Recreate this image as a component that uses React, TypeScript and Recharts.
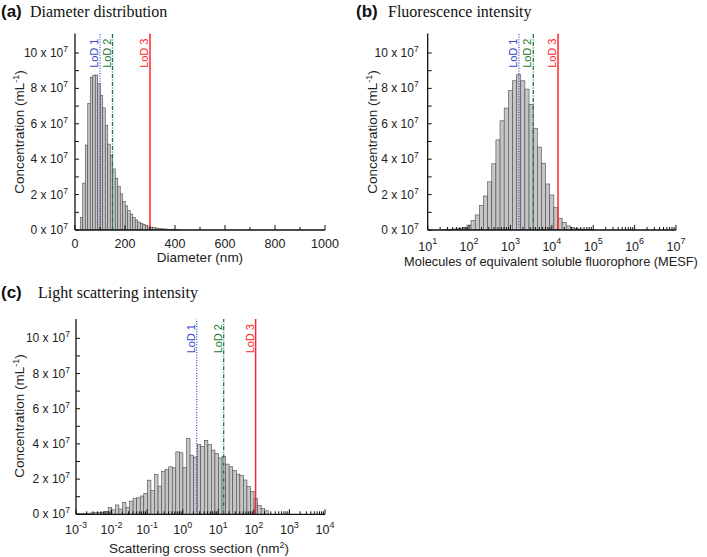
import React from 'react';
import { ComposedChart, Bar, Line, XAxis, YAxis, ReferenceLine } from 'recharts';

const SANS = '"Liberation Sans", Arial, Helvetica, sans-serif';
const SERIF = '"Liberation Serif", "Times New Roman", Times, serif';

// ---------- (a) Diameter distribution: bin centres (nm), concentration (x10^7 mL^-1)
const diameterBinCentres = [25, 35, 45, 55, 65, 75, 85, 95, 105, 115, 125, 135, 145, 155, 165, 175, 185, 195, 205, 215, 225, 235, 245, 255, 265, 275, 285, 295, 305, 315, 325, 335, 345, 355, 365, 375, 385, 395, 405, 415];
const diameterConc = [0.7, 2.65, 4.8, 7.15, 8.63, 8.75, 8.75, 8.28, 7.6, 6.9, 5.9, 4.85, 4.2, 3.45, 2.92, 2.45, 2.04, 1.62, 1.36, 1.09, 0.9, 0.7, 0.57, 0.45, 0.38, 0.32, 0.25, 0.2, 0.16, 0.13, 0.11, 0.09, 0.07, 0.06, 0.05, 0.04, 0.03, 0.02, 0.015, 0.01];
const diameterLoD = [100, 150, 300];
const diameterMajorTicks = [0, 200, 400, 600, 800, 1000];
const diameterMinorTicks = [100, 300, 500, 700, 900];

// ---------- (b) Fluorescence intensity: log10(MESF) bin centres, concentration
const mesfLogBinCentres = [1.4, 1.5, 1.6, 1.7, 1.8, 1.9, 2.0, 2.1, 2.2, 2.3, 2.4, 2.5, 2.6, 2.7, 2.8, 2.9, 3.0, 3.1, 3.2, 3.3, 3.4, 3.5, 3.6, 3.7, 3.8, 3.9, 4.0, 4.1, 4.2, 4.3, 4.4, 4.5, 4.6, 4.7, 4.8, 4.9, 5.0];
const mesfConc = [0.01, 0.02, 0.04, 0.06, 0.09, 0.15, 0.28, 0.53, 0.85, 1.38, 1.92, 2.72, 3.74, 5.09, 6.17, 6.89, 7.87, 8.43, 8.77, 8.43, 7.96, 7.1, 5.75, 4.68, 3.77, 2.6, 1.98, 1.26, 0.66, 0.43, 0.23, 0.13, 0.08, 0.05, 0.03, 0.02, 0.01];
const mesfLoD = [1600, 3560, 14100];
const mesfDecades = [1, 2, 3, 4, 5, 6, 7];

// ---------- (c) Light scattering: log10(cross section, nm^2) bin centres, concentration
const scatterLogBinCentres = [-2.95, -2.85, -2.75, -2.65, -2.55, -2.45, -2.35, -2.25, -2.15, -2.05, -1.95, -1.85, -1.75, -1.65, -1.55, -1.45, -1.35, -1.25, -1.15, -1.05, -0.95, -0.85, -0.75, -0.65, -0.55, -0.45, -0.35, -0.25, -0.15, -0.05, 0.05, 0.15, 0.25, 0.35, 0.45, 0.55, 0.65, 0.75, 0.85, 0.95, 1.05, 1.15, 1.25, 1.35, 1.45, 1.55, 1.65, 1.75, 1.85, 1.95, 2.05, 2.15, 2.25, 2.35];
const scatterConc = [0.03, 0.04, 0.05, 0.06, 0.08, 0.09, 0.11, 0.12, 0.17, 0.38, 0.25, 0.53, 0.3, 0.68, 0.38, 0.75, 0.89, 0.94, 1.04, 1.19, 1.94, 1.36, 2.26, 1.6, 2.45, 2.55, 2.7, 2.64, 3.55, 3.5, 2.65, 4.3, 3.36, 3.25, 3.96, 3.85, 4.2, 3.96, 3.65, 3.45, 3.2, 3.3, 2.85, 2.7, 2.5, 2.28, 2.2, 1.95, 1.57, 1.3, 0.9, 0.5, 0.32, 0.2];
const scatterLoD = [2.47, 14.2, 112];
const scatterDecades = [-3, -2, -1, 0, 1, 2, 3, 4];

// ---------- shared
const concTicks = [0, 1, 2, 3, 4, 5, 6, 7, 8, 9, 10];
const concLabelled = [0, 2, 4, 6, 8, 10];
const concMax = 11.1;
const lodNames = ['LoD 1', 'LoD 2', 'LoD 3'];
const lodColors = ['#3448cf', '#1b7a32', '#ff2626'];
const lodDash = ['1 1.6', '4 1.5 1 1.5', undefined];
const lodWidth = [1.2, 1.3, 1.5];

const logMinor = (decades: number[]) =>
  decades.slice(0, -1).flatMap((d) => [2, 3, 4, 5, 6, 7, 8, 9].map((k) => d + Math.log10(k)));

const isIn = (arr: number[], v: number) => arr.some((m) => Math.abs(m - v) < 1e-9);

const AXIS_LINE = { stroke: '#111', strokeWidth: 1.3 };

type Box = { left: number; top: number; width: number; height: number };
type Plot = { left: number; right: number; top: number; bottom: number };

function Panel(props: {
  box: Box;
  plot: Plot;
  rows: { x: number; v: number }[];
  xDomain: [number, number];
  xMajor: number[];
  xMinor: number[];
  xTickText: (v: number) => React.ReactNode;
  xLabelDy: number;
  binWidth: number;
  lodX: number[];
  yLabelGap: number;
}) {
  const { box, plot, rows, xDomain, xMajor, xMinor, xTickText, xLabelDy, binWidth, lodX, yLabelGap } = props;
  const yAxisW = 60;
  const xAxisH = 40;
  const margin = {
    top: plot.top - box.top,
    left: plot.left - box.left - yAxisW,
    right: box.left + box.width - plot.right,
    bottom: box.top + box.height - plot.bottom - xAxisH,
  };
  const binPx = ((plot.right - plot.left) * binWidth) / (xDomain[1] - xDomain[0]);
  const xTicks = [...xMajor, ...xMinor].sort((a, b) => a - b);

  const bottomTick = (p: any) => {
    const v = p.payload.value;
    const major = isIn(xMajor, v);
    return (
      <g>
        <line x1={p.x} x2={p.x} y1={p.y} y2={p.y - (major ? 5 : 3)} stroke="#111" strokeWidth={1} />
        {major && (
          <text x={p.x} y={p.y + xLabelDy} textAnchor="middle" fontSize={12.5} fontFamily={SANS} fill="#222">
            {xTickText(v)}
          </text>
        )}
      </g>
    );
  };
  const topTick = (p: any) => {
    const v = p.payload.value;
    const major = isIn(xMajor, v);
    return <line x1={p.x} x2={p.x} y1={p.y} y2={p.y + (major ? 5 : 3)} stroke="#111" strokeWidth={1} />;
  };
  const leftTick = (p: any) => {
    const v = p.payload.value;
    const major = isIn(concLabelled, v);
    return (
      <g>
        <line x1={p.x} x2={p.x + 4} y1={p.y} y2={p.y} stroke="#111" strokeWidth={1} />
        {major && (
          <text x={p.x - yLabelGap} y={p.y + 4} textAnchor="end" fontSize={12} fontFamily={SANS} fill="#222">
            {v} x 10
            <tspan dy={-5} fontSize={8.5}>7</tspan>
          </text>
        )}
      </g>
    );
  };
  const rightTick = (p: any) => (
    <line x1={p.x} x2={p.x - 4} y1={p.y} y2={p.y} stroke="#111" strokeWidth={1} />
  );

  // full-bin histogram rectangle, centred where the library placed the bar
  const binShape = (p: any) => {
    if (!p || !(p.height > 0)) return <g />;
    const cx = p.x + p.width / 2;
    return (
      <rect
        x={cx - binPx / 2}
        y={p.y}
        width={binPx}
        height={p.height}
        fill="#c6c6c6"
        stroke="#4a4a4a"
        strokeWidth={0.6}
      />
    );
  };

  const lodLabel = (i: number) => (lp: any) => {
    const vb = lp.viewBox || {};
    const x = vb.x - 1.8;
    const y = vb.y + 5;
    return (
      <text
        x={x}
        y={y}
        transform={`rotate(-90 ${x} ${y})`}
        textAnchor="end"
        fontSize={11}
        fontFamily={SANS}
        fill={lodColors[i]}
      >
        {lodNames[i]}
      </text>
    );
  };

  return (
    <div style={{ position: 'absolute', left: box.left, top: box.top, width: box.width, height: box.height }}>
      <ComposedChart width={box.width} height={box.height} data={rows} margin={margin} barCategoryGap={0} barGap={0}>
        <XAxis
          xAxisId="b"
          dataKey="x"
          type="number"
          domain={xDomain}
          allowDataOverflow
          ticks={xTicks}
          interval={0}
          tickSize={0}
          tickMargin={0}
          height={xAxisH}
          axisLine={AXIS_LINE}
          tickLine={false}
          tick={bottomTick}
        />
        <XAxis
          xAxisId="t"
          orientation="top"
          dataKey="x"
          type="number"
          domain={xDomain}
          allowDataOverflow
          ticks={xTicks}
          interval={0}
          tickSize={0}
          tickMargin={0}
          height={0}
          axisLine={AXIS_LINE}
          tickLine={false}
          tick={topTick}
        />
        <YAxis
          yAxisId="l"
          type="number"
          domain={[0, concMax]}
          allowDataOverflow
          ticks={concTicks}
          interval={0}
          tickSize={0}
          tickMargin={0}
          width={yAxisW}
          axisLine={AXIS_LINE}
          tickLine={false}
          tick={leftTick}
        />
        <YAxis
          yAxisId="r"
          orientation="right"
          type="number"
          domain={[0, concMax]}
          allowDataOverflow
          ticks={concTicks}
          interval={0}
          tickSize={0}
          tickMargin={0}
          width={0}
          axisLine={AXIS_LINE}
          tickLine={false}
          tick={rightTick}
        />
        <Bar
          xAxisId="b"
          yAxisId="l"
          dataKey="v"
          fill="#c6c6c6"
          stroke="#4a4a4a"
          strokeWidth={0.6}
          shape={binShape}
          isAnimationActive={false}
        />
        <Line
          xAxisId="t"
          yAxisId="r"
          dataKey="v"
          stroke="none"
          dot={false}
          activeDot={false}
          isAnimationActive={false}
        />
        {lodX.map((lx, i) => (
          <ReferenceLine
            key={i}
            xAxisId="b"
            yAxisId="l"
            x={lx}
            stroke={lodColors[i]}
            strokeWidth={lodWidth[i]}
            strokeDasharray={lodDash[i]}
            label={lodLabel(i)}
          />
        ))}
      </ComposedChart>
    </div>
  );
}

const rowsOf = (xs: number[], vs: number[]) => xs.map((x, i) => ({ x, v: vs[i] }));

const pow10 = (v: number) => (
  <>
    10
    <tspan dy={-6.5} fontSize={9}>
      {Math.round(v)}
    </tspan>
  </>
);

function YTitle({ x, y }: { x: number; y: number }) {
  return (
    <text x={x} y={y} transform={`rotate(-90 ${x} ${y})`} textAnchor="middle" fontSize={13.5} fontFamily={SANS} fill="#222">
      Concentration (mL
      <tspan dy={-5} fontSize={9}>
        -1
      </tspan>
      <tspan dy={5}>)</tspan>
    </text>
  );
}

export default function App() {
  return (
    <div style={{ position: 'absolute', left: 0, top: 0, width: 707, height: 557, background: '#fff', overflow: 'hidden' }}>
      <Panel
        box={{ left: 0, top: 0, width: 345, height: 280 }}
        plot={{ left: 75, right: 325, top: 33.5, bottom: 230 }}
        rows={rowsOf(diameterBinCentres, diameterConc)}
        xDomain={[0, 1000]}
        xMajor={diameterMajorTicks}
        xMinor={diameterMinorTicks}
        xTickText={(v) => v}
        xLabelDy={17.5}
        binWidth={10}
        lodX={diameterLoD}
        yLabelGap={7}
      />
      <Panel
        box={{ left: 350, top: 0, width: 357, height: 280 }}
        plot={{ left: 427.7, right: 676, top: 33.5, bottom: 230 }}
        rows={rowsOf(mesfLogBinCentres, mesfConc)}
        xDomain={[1, 7]}
        xMajor={mesfDecades}
        xMinor={logMinor(mesfDecades)}
        xTickText={pow10}
        xLabelDy={20.5}
        binWidth={0.1}
        lodX={mesfLoD.map((v) => Math.log10(v))}
        yLabelGap={9}
      />
      <Panel
        box={{ left: 0, top: 285, width: 345, height: 272 }}
        plot={{ left: 76, right: 325, top: 319, bottom: 514.3 }}
        rows={rowsOf(scatterLogBinCentres, scatterConc)}
        xDomain={[-3, 4]}
        xMajor={scatterDecades}
        xMinor={logMinor(scatterDecades)}
        xTickText={pow10}
        xLabelDy={19.7}
        binWidth={0.1}
        lodX={scatterLoD.map((v) => Math.log10(v))}
        yLabelGap={6}
      />
      <svg width={707} height={557} style={{ position: 'absolute', left: 0, top: 0, pointerEvents: 'none' }}>
        <text x={1} y={17} fontFamily={SANS} fontWeight="bold" fontSize={17} fill="#111">(a)</text>
        <text x={30} y={17} fontFamily={SERIF} fontSize={16} fill="#111">Diameter distribution</text>
        <text x={356} y={17} fontFamily={SANS} fontWeight="bold" fontSize={17} fill="#111">(b)</text>
        <text x={388} y={17} fontFamily={SERIF} fontSize={16} fill="#111">Fluorescence intensity</text>
        <text x={1} y={298} fontFamily={SANS} fontWeight="bold" fontSize={17} fill="#111">(c)</text>
        <text x={38} y={298} fontFamily={SERIF} fontSize={16} fill="#111">Light scattering intensity</text>

        <YTitle x={23.5} y={132} />
        <YTitle x={376.5} y={132} />
        <YTitle x={24} y={416} />

        <text x={200} y={262} textAnchor="middle" fontFamily={SANS} fontSize={13.5} fill="#222">Diameter (nm)</text>
        <text x={551} y={266} textAnchor="middle" fontFamily={SANS} fontSize={12.8} fill="#222">
          Molecules of equivalent soluble fluorophore (MESF)
        </text>
        <text x={199} y={553} textAnchor="middle" fontFamily={SANS} fontSize={13.5} fill="#222">
          Scattering cross section (nm
          <tspan dy={-5} fontSize={9}>2</tspan>
          <tspan dy={5}>)</tspan>
        </text>
      </svg>
    </div>
  );
}
